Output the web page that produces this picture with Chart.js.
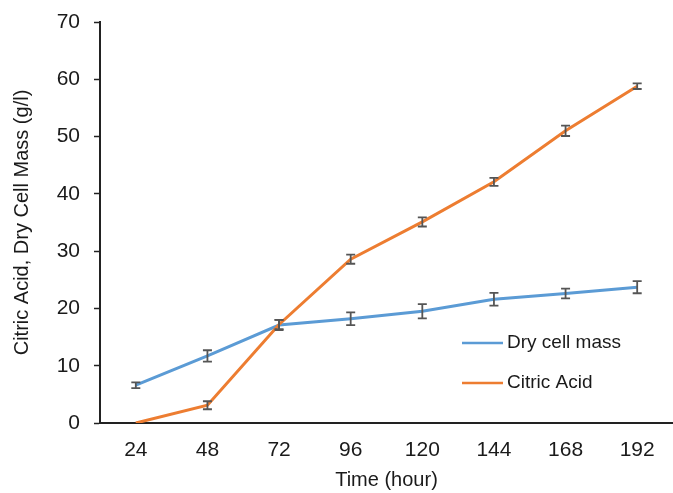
<!DOCTYPE html>
<html>
<head>
<meta charset="utf-8">
<script src="https://cdn.jsdelivr.net/npm/chart.js@4.4.1/dist/chart.umd.min.js"></script>
<style>
  html, body { margin: 0; padding: 0; background: #fff; }
  #wrap { width: 673px; height: 493px; }
</style>
</head>
<body>
<div id="wrap"><canvas id="growthChart"></canvas></div>
<script>
const hours = ['24', '48', '72', '96', '120', '144', '168', '192'];
const dryCellMass = [6.6, 11.7, 17.1, 18.2, 19.5, 21.6, 22.6, 23.7];
const dryCellErr = [0.5, 1.0, 0.9, 1.1, 1.25, 1.1, 0.85, 1.05];
const citricAcid = [0, 3.1, 17.2, 28.6, 35.1, 42.1, 51.0, 58.8];
const citricErr = [0, 0.7, 0.8, 0.8, 0.8, 0.7, 0.9, 0.5];
const yTicks = [0, 10, 20, 30, 40, 50, 60, 70];

const BLUE = '#5b9bd5';
const ORANGE = '#ed7d31';
const FONT = 'Liberation Sans, Arial, sans-serif';

// error bars drawn over the lines
const errorBars = {
    id: 'errorBars',
    afterDatasetsDraw(chart) {
        const ctx = chart.ctx;
        const y = chart.scales.y;
        ctx.save();
        ctx.strokeStyle = '#555';
        ctx.lineWidth = 1.8;
        chart.data.datasets.forEach((ds, i) => {
            const meta = chart.getDatasetMeta(i);
            meta.data.forEach((pt, j) => {
                const e = ds.errors[j];
                if (!e) return;
                const top = y.getPixelForValue(ds.data[j] + e);
                const bot = y.getPixelForValue(ds.data[j] - e);
                ctx.beginPath();
                ctx.moveTo(pt.x, top); ctx.lineTo(pt.x, bot);
                ctx.moveTo(pt.x - 4.5, top); ctx.lineTo(pt.x + 4.5, top);
                ctx.moveTo(pt.x - 4.5, bot); ctx.lineTo(pt.x + 4.5, bot);
                ctx.stroke();
            });
        });
        ctx.restore();
    }
};

// legend sitting inside the plot, lower right
const insideLegend = {
    id: 'insideLegend',
    afterDraw(chart) {
        const ctx = chart.ctx;
        const items = [
            { text: 'Dry cell mass', color: BLUE },
            { text: 'Citric Acid', color: ORANGE }
        ];
        ctx.save();
        ctx.font = '19px ' + FONT;
        ctx.textBaseline = 'middle';
        items.forEach((it, i) => {
            const yy = 343 + i * 40;
            ctx.strokeStyle = it.color;
            ctx.lineWidth = 2.5;
            ctx.beginPath();
            ctx.moveTo(462, yy); ctx.lineTo(503, yy);
            ctx.stroke();
            ctx.fillStyle = '#1a1a1a';
            ctx.fillText(it.text, 507, yy);
        });
        ctx.restore();
    }
};

new Chart(document.getElementById('growthChart'), {
    type: 'line',
    data: {
        labels: hours,
        datasets: [
            { label: 'Dry cell mass', data: dryCellMass, errors: dryCellErr,
              borderColor: BLUE, borderWidth: 3, pointRadius: 0, tension: 0, order: 1 },
            { label: 'Citric Acid', data: citricAcid, errors: citricErr,
              borderColor: ORANGE, borderWidth: 3, pointRadius: 0, tension: 0, order: 0 }
        ]
    },
    options: {
        responsive: true,
        maintainAspectRatio: false,
        animation: false,
        layout: { padding: { top: 22, right: 0, bottom: 0, left: 0 } },
        plugins: { legend: { display: false }, tooltip: { enabled: false } },
        scales: {
            x: {
                offset: true,
                grid: { display: false, drawTicks: false },
                border: { color: '#222', width: 2 },
                ticks: { color: '#1a1a1a', font: { family: FONT, size: 21 }, padding: 15, maxRotation: 0 },
                title: { display: true, text: 'Time (hour)', color: '#1a1a1a',
                         font: { family: FONT, size: 20 }, padding: { top: 0, bottom: 1 } },
                afterFit: s => { s.height = 70; }
            },
            y: {
                min: 0, max: 70,
                afterBuildTicks: s => { s.ticks = yTicks.map(v => ({ value: v })); },
                grid: { drawOnChartArea: false, drawTicks: true, tickLength: 6, color: '#222', tickWidth: 1.5 },
                border: { color: '#222', width: 2 },
                ticks: { color: '#1a1a1a', font: { family: FONT, size: 21 }, padding: 14 },
                title: { display: true, text: 'Citric Acid, Dry Cell Mass (g/l)', color: '#1a1a1a',
                         font: { family: FONT, size: 20 }, padding: { top: 10, bottom: 0 } },
                afterFit: s => { s.width = 100; s.paddingTop = 6; s.paddingBottom = 6; }
            }
        }
    },
    plugins: [errorBars, insideLegend]
});
</script>
</body>
</html>
